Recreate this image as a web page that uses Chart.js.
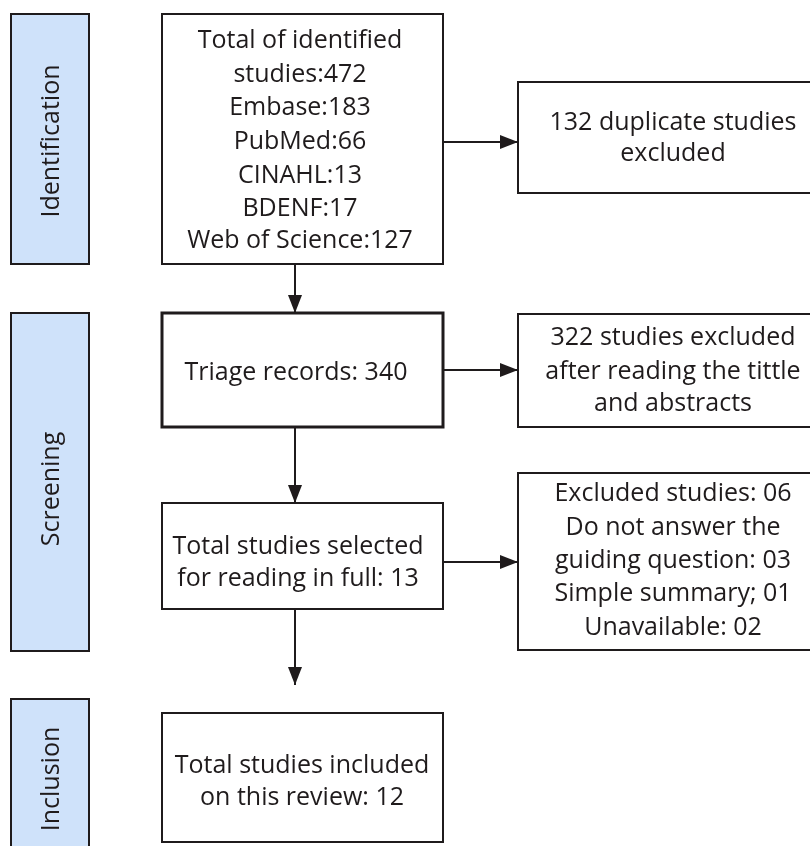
<!DOCTYPE html>
<html>
<head>
<meta charset="utf-8">
<script src="https://cdn.jsdelivr.net/npm/chart.js@4"></script>
<style>
  html, body { margin: 0; padding: 0; background: #ffffff; }
  #wrap { width: 810px; height: 846px; }
</style>
</head>
<body>
<div id="wrap"><canvas id="flow" width="810" height="846"></canvas></div>
<script>
// stage labels (left blue bars)
const stageLabels = ['Identification', 'Screening', 'Inclusion'];

// main column texts
const mainTexts = [
  ['Total of identified', 'studies:472', 'Embase:183', 'PubMed:66', 'CINAHL:13', 'BDENF:17', 'Web of Science:127'],
  ['Triage records: 340'],
  ['Total studies selected', 'for reading in full: 13'],
  ['Total studies included', 'on this review: 12']
];

// side (excluded) texts
const sideTexts = [
  ['132 duplicate studies', 'excluded'],
  ['322 studies excluded', 'after reading the tittle', 'and abstracts'],
  ['Excluded studies: 06', 'Do not answer the', 'guiding question: 03', 'Simple summary; 01', 'Unavailable: 02']
];

// layout, in axis units (x 0..810, y 0..846 top-down)
const stageBoxes = [[11, 14, 89, 264], [11, 313, 89, 651], [11, 699, 89, 859]];
const stageLabelY = [141, 489, 779];
const mainBoxes = [[162, 14, 443, 264], [162, 313, 443, 427], [162, 503, 443, 609], [162, 713, 443, 842]];
const mainBorder = [2, 3, 2, 2];
const mainLineY = [[41, 75, 108, 142, 176, 209, 241], [373], [547, 579], [766, 798]];
const mainTextX = [300, 296, 298, 302];
const sideBoxes = [[518, 82, 828, 193], [518, 314, 828, 427], [518, 473, 828, 650]];
const sideLineY = [[123, 154], [338, 372, 404], [494, 528, 561, 594, 628]];
const sideTextX = 673;

// connectors [x1, y1, x2, y2], arrowhead at the end
const connectors = [
  [295, 264, 295, 313],
  [295, 427, 295, 503],
  [295, 609, 295, 685],
  [443, 142, 518, 142],
  [443, 370, 518, 370],
  [443, 562, 518, 562]
];

const INK = '#1f1b1c';
const FONT = '"Open Sans", "Lato", sans-serif';

const datasets = connectors.map(c => ({
  data: [{ x: c[0], y: c[1] }, { x: c[2], y: c[3] }],
  showLine: true,
  borderColor: INK,
  borderWidth: 2,
  pointRadius: 0
}));

function drawBox(ctx, sx, sy, b, fill, lw) {
  const x1 = sx.getPixelForValue(b[0]), y1 = sy.getPixelForValue(b[1]);
  const x2 = sx.getPixelForValue(b[2]), y2 = sy.getPixelForValue(b[3]);
  ctx.fillStyle = fill;
  ctx.fillRect(x1, y1, x2 - x1, y2 - y1);
  ctx.lineWidth = lw;
  ctx.strokeStyle = INK;
  ctx.strokeRect(x1, y1, x2 - x1, y2 - y1);
}

const flowPlugin = {
  id: 'flow',
  beforeDatasetsDraw(chart) {
    const ctx = chart.ctx, sx = chart.scales.x, sy = chart.scales.y;
    ctx.save();
    ctx.fillStyle = '#fff';
    ctx.fillRect(0, 0, chart.width, chart.height);

    ctx.font = '25px ' + FONT;
    ctx.textAlign = 'center';
    ctx.textBaseline = 'middle';

    stageBoxes.forEach((b, i) => {
      drawBox(ctx, sx, sy, b, '#cfe2fa', 2);
      const cx = sx.getPixelForValue((b[0] + b[2]) / 2);
      const cy = sy.getPixelForValue(stageLabelY[i]);
      ctx.save();
      ctx.translate(cx + 2, cy);
      ctx.rotate(-Math.PI / 2);
      ctx.fillStyle = INK;
      ctx.fillText(stageLabels[i], 0, 0);
      ctx.restore();
    });

    mainBoxes.forEach((b, i) => {
      drawBox(ctx, sx, sy, b, '#fff', mainBorder[i]);
      ctx.fillStyle = INK;
      mainTexts[i].forEach((t, j) => {
        ctx.fillText(t, sx.getPixelForValue(mainTextX[i]), sy.getPixelForValue(mainLineY[i][j]));
      });
    });

    sideBoxes.forEach((b, i) => {
      drawBox(ctx, sx, sy, b, '#fff', 2);
      ctx.fillStyle = INK;
      sideTexts[i].forEach((t, j) => {
        ctx.fillText(t, sx.getPixelForValue(sideTextX), sy.getPixelForValue(sideLineY[i][j]));
      });
    });
    ctx.restore();
  },
  afterDatasetsDraw(chart) {
    const ctx = chart.ctx, sx = chart.scales.x, sy = chart.scales.y;
    ctx.save();
    ctx.fillStyle = INK;
    connectors.forEach(c => {
      const x0 = sx.getPixelForValue(c[0]), y0 = sy.getPixelForValue(c[1]);
      const x = sx.getPixelForValue(c[2]), y = sy.getPixelForValue(c[3]);
      const a = Math.atan2(y - y0, x - x0);
      ctx.save();
      ctx.translate(x, y);
      ctx.rotate(a);
      ctx.beginPath();
      ctx.moveTo(0, 0);
      ctx.lineTo(-18, -7);
      ctx.lineTo(-18, 7);
      ctx.closePath();
      ctx.fill();
      ctx.restore();
    });
    ctx.restore();
  }
};

new Chart(document.getElementById('flow'), {
  type: 'scatter',
  data: { datasets },
  options: {
    responsive: false,
    animation: false,
    events: [],
    layout: { padding: 0 },
    plugins: { legend: { display: false }, tooltip: { enabled: false } },
    scales: {
      x: { type: 'linear', min: 0, max: 810, display: false },
      y: { type: 'linear', min: 0, max: 846, reverse: true, display: false }
    }
  },
  plugins: [flowPlugin]
});
</script>
</body>
</html>
